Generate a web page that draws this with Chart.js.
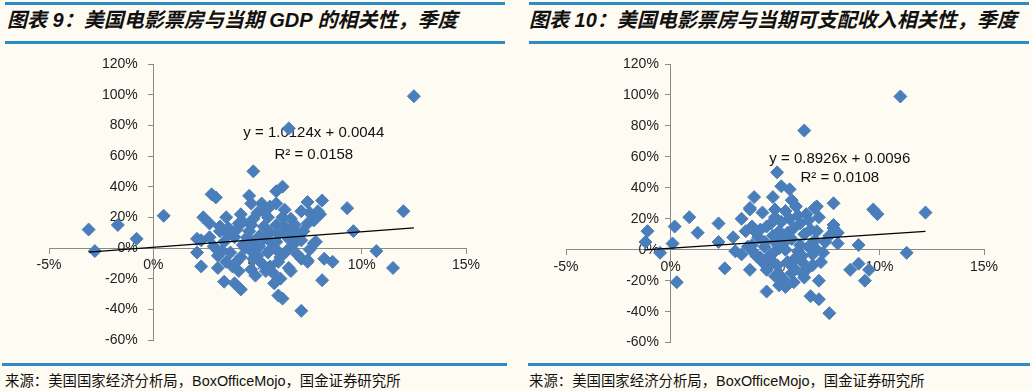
<!DOCTYPE html>
<html>
<head>
<meta charset="utf-8">
<script src="https://cdn.jsdelivr.net/npm/chart.js@4.4.1/dist/chart.umd.min.js"></script>
<style>
    body { margin: 0; width: 1032px; height: 391px; background: #fefbf2; position: relative; overflow: hidden;
           font-family: Arial, "Liberation Sans", "Noto Sans CJK SC", sans-serif; }
    .rule { position: absolute; height: 3px; background: #2a8dc8; }
    .title { position: absolute; top: 8px; font-size: 20px; line-height: 24px; font-weight: bold; font-style: italic; color: #111; white-space: nowrap; }
    .source { position: absolute; top: 373px; font-size: 14.4px; line-height: 16px; color: #111; white-space: nowrap; }
    canvas { position: absolute; top: 45px; }
</style>
</head>
<body>
<div class="rule" style="left:5px; width:500px; top:2px"></div>
<div class="rule" style="left:5px; width:500px; top:41px"></div>
<div class="rule" style="left:529px; width:500px; top:2px"></div>
<div class="rule" style="left:529px; width:500px; top:41px"></div>
<div class="title" style="left:7px">图表 9：美国电影票房与当期 GDP 的相关性，季度</div>
<div class="title" style="left:529px">图表 10：美国电影票房与当期可支配收入相关性，季度</div>

<canvas id="gdpChart" width="516" height="315" style="left:0"></canvas>
<canvas id="incomeChart" width="516" height="315" style="left:516px"></canvas>

<div class="rule" style="left:2px; width:505px; top:363px"></div>
<div class="rule" style="left:528px; width:502px; top:363px"></div>
<div class="source" style="left:5px">来源：美国国家经济分析局，BoxOfficeMojo，国金证券研究所</div>
<div class="source" style="left:529px">来源：美国国家经济分析局，BoxOfficeMojo，国金证券研究所</div>

<script>
// Values are in percent. One point per quarter.
const gdpGrowth = [
    -3.1, -2.8, -1.7, -0.8, 0.5, 12.5, 6.5, 4.8, 2.8, 3.0, 4.6, 4.7, 6.2, 5.9, 7.4, 8.1, 9.3, 12.0, 5.9, 6.3,
    7.1, 7.9, 7.7, 7.4, 2.4, 2.7, 3.5, 3.6, 4.3, 4.7, 5.0, 5.3, 5.6, 5.3, 5.9, 6.6, 6.7, 4.0, 3.2, 2.1,
    2.3, 2.7, 2.1, 2.3, 3.1, 3.4, 3.9, 4.2, 4.1, 4.7, 5.2, 5.8, 6.1, 6.0, 6.2, 7.1, 6.5, 6.6, 7.1, 7.4,
    8.1, 8.2, 8.6, 7.5, 7.8, 7.1, 6.3, 5.6, 5.1, 4.5, 3.9, 3.4, 2.9, 3.1, 3.7, 4.2, 4.7, 5.1, 5.5, 5.9,
    6.1, 6.4, 6.7, 5.9, 4.3, 4.8, 3.5, 3.8, 4.8, 5.6, 6.3, 5.5, 4.8, 4.1, 3.2, 6.9, 7.2, 7.5, 6.2, 9.6,
    10.7, 11.5, 8.0, 7.7, 7.4, 4.4, 5.3, 6.0, 4.0, 5.0, 5.7, 4.6, 6.5, 3.6, 5.4, 6.9, 4.9, 6.8, 5.2, 4.2,
    6.0, 3.3, 5.8
];
const boxGrowthVsGdp = [
    12, -2, 15, 6, 21, 99, 78, 50, 35, 33, 34, 29, 40, 37, 30, 31, 26, 24, 29, 25,
    24, 24, 18, 16, 20, 16, 20, 13, 17, 15, 23, 24, 27, 14, 15, 19, 12, 12, 11, 6,
    5, 7, -3, -12, -13, -22, -23, -27, -15, -14, -10, -23, -20, -31, -33, -41, -13, -15, -7, -9,
    -21, -7, -9, -1, 4, 5, 10, 10, 8, 7, 7, 4, 1, -5, -3, -6, -2, 1, -3, -1,
    -6, -2, 2, 4, 2, 4, -9, -12, -7, -12, 14, 20, 19, 16, 14, 8, 11, 23, 20, 11,
    -2, -13, 22, 3, -8, 0, 6, 9, -9, -5, 3, 11, 6, 9, -15, -4, -18, 15, 29, 22,
    -9, -2, -17
];

const incomeGrowth = [
    -1.1, -1.2, -0.5, 0.1, 0.2, 0.9, 1.3, 0.3, 2.3, 2.3, 2.6, 3.0, 3.4, 3.1, 3.4, 3.8, 4.1, 3.8, 4.6, 5.2,
    5.0, 4.4, 5.0, 4.1, 4.6, 5.4, 5.1, 4.0, 3.8, 4.9, 5.3, 5.7, 5.0, 11.0, 6.4, 7.8, 12.2, 7.0, 5.8, 9.7,
    9.9, 9.0, 8.0, 11.3, 9.0, 8.6, 9.5, 9.3, 7.1, 6.7, 7.1, 7.6, 5.9, 7.2, 7.3, 7.8, 8.0, 6.5, 6.9, 7.1,
    7.8, 6.5, 6.3, 4.2, 4.5, 4.8, 5.0, 5.2, 5.5, 5.8, 6.0, 6.2, 4.6, 5.3, 5.9, 6.4, 6.6, 6.8, 5.6, 5.1,
    4.4, 3.9, 4.0, 5.7, 6.2, 6.9, 7.0, 4.9, 5.4, 6.1, 4.7, 5.9, 6.3, 4.3, 5.5, 6.0, 6.6, 3.6, 3.7, 5.2,
    6.8, 7.4, 7.6, 4.3, 5.0, 5.6, 6.3, 5.3, 4.8, 6.1, 4.5, 5.8, 6.7, 3.9, 5.2, 6.4, 4.9, 7.0, 5.5
];
const boxGrowthVsIncome = [
    12, 5, -2, 4, 15, 21, 11, -21, 17, 5, -12, 8, 20, -1, -3, 27, 11, -13, -27, -23,
    -17, 24, 21, -4, -13, -19, 50, 34, 26, 34, 41, 39, 26, 99, 77, 30, 24, 28, 32, 26,
    23, 3, 4, -2, -9, -13, -13, -20, -20, -30, -32, -41, -21, -8, -2, 14, 11, 23, 27, 21,
    16, -13, -8, 8, 2, -3, 5, 12, 0, 7, -5, 3, 15, 18, 14, 10, 2, -3, -8, -10,
    -8, 3, -2, 20, 17, 6, 12, 9, 4, -1, -5, -12, -15, 13, 25, 28, 19, 12, 2, -16,
    -10, 5, 9, -5, -1, 11, -4, 8, 17, 22, 5, -15, 13, 15, 1, -18, -8, 0, -24
];

// Excel trendline labels
const gdpTrend = { slope: 1.0124, intercept: 0.0044, r2: '0.0158' };
const incomeTrend = { slope: 0.8926, intercept: 0.0096, r2: '0.0108' };

const xTicks = [-5, 0, 5, 10, 15];
const yTicks = [-60, -40, -20, 0, 20, 40, 60, 80, 100, 120];

const markerColor = '#4a7ebb';
const axisColor = '#8a8a8a';

// draws the trendline equation under the points
const equationPlugin = {
    id: 'equation',
    beforeDatasetsDraw(chart, args, opts) {
        const ctx = chart.ctx;
        const x = chart.scales.x.getPixelForValue(opts.at[0]);
        const y = chart.scales.y.getPixelForValue(opts.at[1]);
        ctx.save();
        ctx.font = '15px Arial, "Liberation Sans"';
        ctx.fillStyle = '#111';
        ctx.textAlign = 'center';
        ctx.textBaseline = 'middle';
        ctx.fillText(opts.lines[0], x, y);
        ctx.fillText(opts.lines[1], x, y + opts.gap);
        ctx.restore();
    }
};

function makeChart(canvasId, xs, ys, trend, labelAt, gap, padding, yLabelGap) {
    const points = xs.map((x, i) => ({ x: x, y: ys[i] }));
    const minX = Math.min(...xs);
    const maxX = Math.max(...xs);
    const trendPoints = [minX, maxX].map(x => ({ x: x, y: trend.slope * x + trend.intercept * 100 }));
    const sign = trend.intercept >= 0 ? '+' : '-';
    const eq = 'y = ' + trend.slope.toFixed(4) + 'x ' + sign + ' ' + Math.abs(trend.intercept).toFixed(4);

    const tickFont = { family: 'Arial, "Liberation Sans"', size: 14 };
    // the value-positioned y axis puts its labels right on the line, so pad them with spaces
    const ySpacer = ' '.repeat(yLabelGap);

    return new Chart(document.getElementById(canvasId), {
        type: 'scatter',
        data: {
            datasets: [
                {
                    data: points,
                    pointStyle: 'rectRot',
                    pointRadius: 6.5,
                    pointBackgroundColor: markerColor,
                    pointBorderColor: markerColor,
                    pointBorderWidth: 1,
                    order: 2
                },
                {
                    type: 'line',
                    data: trendPoints,
                    borderColor: '#000',
                    borderWidth: 1.3,
                    pointRadius: 0,
                    fill: false,
                    order: 1
                }
            ]
        },
        options: {
            responsive: false,
            animation: false,
            layout: { padding: padding },
            plugins: {
                legend: { display: false },
                tooltip: { enabled: false },
                equation: { at: labelAt, gap: gap, lines: [eq, 'R² = ' + trend.r2] }
            },
            scales: {
                x: {
                    type: 'linear',
                    position: { y: 0 },
                    min: xTicks[0],
                    max: xTicks[xTicks.length - 1],
                    afterBuildTicks: axis => { axis.ticks = xTicks.map(v => ({ value: v })); },
                    grid: { drawOnChartArea: false, drawTicks: true, tickLength: 5, color: axisColor },
                    border: { color: axisColor, width: 1 },
                    ticks: { font: tickFont, color: '#222', padding: 4, maxRotation: 0, callback: v => v + '%' }
                },
                y: {
                    type: 'linear',
                    position: { x: 0 },
                    min: yTicks[0],
                    max: yTicks[yTicks.length - 1],
                    afterBuildTicks: axis => { axis.ticks = yTicks.map(v => ({ value: v })); },
                    grid: { drawOnChartArea: false, drawTicks: true, tickLength: 5, color: axisColor },
                    border: { color: axisColor, width: 1 },
                    ticks: { font: tickFont, color: '#222', padding: 9, callback: v => v + '%' + ySpacer }
                }
            }
        },
        plugins: [equationPlugin]
    });
}

makeChart('gdpChart', gdpGrowth, boxGrowthVsGdp, gdpTrend, [7.7, 75], 22,
    { left: 49, right: 50, top: 19, bottom: 20 }, 4);
makeChart('incomeChart', incomeGrowth, boxGrowthVsIncome, incomeTrend, [8.1, 59], 19,
    { left: 50, right: 48, top: 19, bottom: 17 }, 3);
</script>
</body>
</html>
